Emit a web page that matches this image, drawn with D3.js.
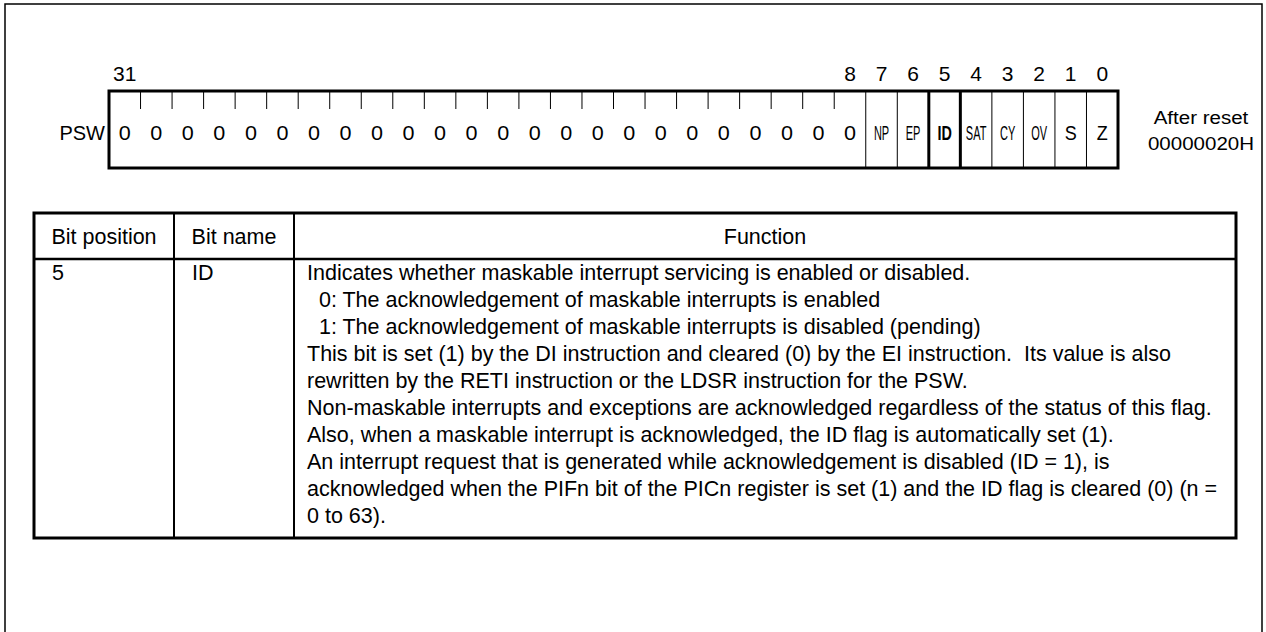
<!DOCTYPE html>
<html>
<head>
<meta charset="utf-8">
<script src="https://cdn.jsdelivr.net/npm/d3@7"></script>
<style>
  html, body { margin: 0; padding: 0; background: #fff; }
  svg text { font-family: "Liberation Sans", Arial, Helvetica, sans-serif; fill: #000; }
</style>
</head>
<body>
<svg id="chart" width="1266" height="632"></svg>
<script>
// ---------------- data ----------------
const registerName = "PSW";
const labelledBits = [31, 8, 7, 6, 5, 4, 3, 2, 1, 0];
const upperBitValues = ["0","0","0","0","0","0","0","0","0","0","0","0",
                        "0","0","0","0","0","0","0","0","0","0","0","0"]; // bits 31..8
const flagNames = ["NP", "EP", "ID", "SAT", "CY", "OV", "S", "Z"];             // bits 7..0
const highlightedFlag = "ID";
const resetLines = ["After reset", "00000020H"];
const tableHeaders = ["Bit position", "Bit name", "Function"];
const tableRowPosition = "5";
const tableRowName = "ID";
const functionLines = [
  "Indicates whether maskable interrupt servicing is enabled or disabled.",
  "  0: The acknowledgement of maskable interrupts is enabled",
  "  1: The acknowledgement of maskable interrupts is disabled (pending)",
  "This bit is set (1) by the DI instruction and cleared (0) by the EI instruction.  Its value is also",
  "rewritten by the RETI instruction or the LDSR instruction for the PSW.",
  "Non-maskable interrupts and exceptions are acknowledged regardless of the status of this flag.",
  "Also, when a maskable interrupt is acknowledged, the ID flag is automatically set (1).",
  "An interrupt request that is generated while acknowledgement is disabled (ID = 1), is",
  "acknowledged when the PIFn bit of the PICn register is set (1) and the ID flag is cleared (0) (n =",
  "0 to 63)."
];

// ---------------- layout ----------------
const svg = d3.select("#chart");
const FS = 21.5;

// outer frame
svg.append("rect").attr("x", 5).attr("y", 4).attr("width", 1257).attr("height", 700)
  .attr("fill", "none").attr("stroke", "#000").attr("stroke-width", 1.5);

// register
const bitIndex = d3.range(31, -1, -1);
const x = d3.scaleBand().domain(bitIndex).range([109, 1118]).paddingInner(0).paddingOuter(0);
const regTop = 91, regBot = 168, tickBot = 109;
const reg = svg.append("g");

// bit number labels
reg.selectAll("text.bitnum").data(labelledBits).join("text")
  .attr("class", "bitnum")
  .attr("text-anchor", "middle")
  .attr("font-size", 20)
  .attr("transform", d => `translate(${x(d) + x.bandwidth() / 2},81) scale(1.05,1)`)
  .text(d => d);

// register name
reg.append("text").attr("x", 105).attr("y", 140).attr("text-anchor", "end")
  .attr("font-size", 20).text(registerName);

// ticks between bits 31..8
const tickBits = d3.range(30, 7, -1);
reg.selectAll("line.tick").data(tickBits).join("line")
  .attr("x1", d => x(d)).attr("x2", d => x(d))
  .attr("y1", regTop).attr("y2", tickBot)
  .attr("stroke", "#000").attr("stroke-width", 1);

// full separators between flag bits
const flagBits = d3.range(7, -1, -1);
const hiIdx = flagNames.indexOf(highlightedFlag);
const hiBit = flagBits[hiIdx];
reg.selectAll("line.sep").data(flagBits).join("line")
  .attr("x1", d => x(d)).attr("x2", d => x(d))
  .attr("y1", regTop).attr("y2", regBot)
  .attr("stroke", "#000")
  .attr("stroke-width", d => (d === hiBit || d === hiBit - 1) ? 3 : 1);

// upper bit values
reg.selectAll("text.val").data(upperBitValues).join("text")
  .attr("text-anchor", "middle")
  .attr("font-size", 20)
  .attr("transform", (d, i) => `translate(${x(31 - i) + x.bandwidth() / 2},140) scale(1.08,1)`)
  .text(d => d);

// flag names
const narrow = new Set(["NP", "EP", "SAT", "CY", "OV"]);
reg.selectAll("text.flag").data(flagNames).join("text")
  .attr("text-anchor", "middle")
  .attr("font-size", 20)
  .attr("font-weight", d => d === highlightedFlag ? "bold" : "normal")
  .attr("transform", (d, i) => {
    const sx = narrow.has(d) ? 0.55 : (d === highlightedFlag ? 0.72 : 0.9);
    return `translate(${x(flagBits[i]) + x.bandwidth() / 2},140) scale(${sx},1)`;
  })
  .text(d => d);

// register outline
reg.append("rect").attr("x", 109).attr("y", regTop).attr("width", 1118 - 109).attr("height", regBot - regTop)
  .attr("fill", "none").attr("stroke", "#000").attr("stroke-width", 3);

// after reset
svg.selectAll("text.reset").data(resetLines).join("text")
  .attr("text-anchor", "middle").attr("font-size", 19)
  .attr("transform", (d, i) => `translate(1201,${124 + i * 26}) scale(1.08,1)`)
  .text(d => d);

// ---------------- table ----------------
const tL = 34, tR = 1236, tT = 213, tH = 259, tB = 538;
const colX = [tL, 174, 294, tR];
const tbl = svg.append("g");

tbl.selectAll("text.hdr").data(tableHeaders).join("text")
  .attr("x", (d, i) => (colX[i] + colX[i + 1]) / 2)
  .attr("y", 244)
  .attr("text-anchor", "middle")
  .attr("font-size", FS)
  .text(d => d);

tbl.append("text").attr("x", 52).attr("y", 280).attr("font-size", FS).text(tableRowPosition);
tbl.append("text").attr("x", 192).attr("y", 280).attr("font-size", FS).text(tableRowName);

const lineY = d3.scaleLinear().domain([0, 1]).range([280, 307]);
tbl.selectAll("text.fn").data(functionLines).join("text")
  .attr("x", 307)
  .attr("y", (d, i) => lineY(i))
  .attr("font-size", FS)
  .style("white-space", "pre")
  .text(d => d);

// column separators
tbl.selectAll("line.col").data(colX.slice(1, 3)).join("line")
  .attr("x1", d => d).attr("x2", d => d).attr("y1", tT).attr("y2", tB)
  .attr("stroke", "#000").attr("stroke-width", 2);
// header line
tbl.append("line").attr("x1", tL).attr("x2", tR).attr("y1", tH).attr("y2", tH)
  .attr("stroke", "#000").attr("stroke-width", 2.5);
// outline
tbl.append("rect").attr("x", tL).attr("y", tT).attr("width", tR - tL).attr("height", tB - tT)
  .attr("fill", "none").attr("stroke", "#000").attr("stroke-width", 3);
</script>
</body>
</html>
